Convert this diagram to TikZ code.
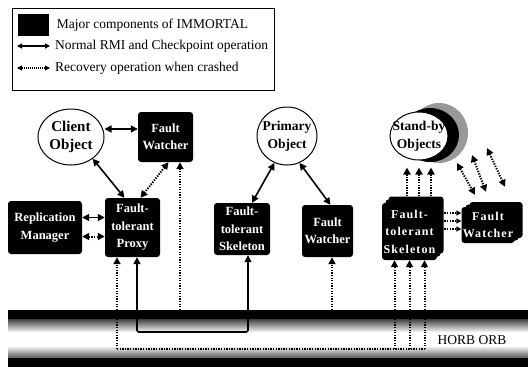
\documentclass[tikz,border=0pt]{standalone}
\usepackage{fontspec}
\setmainfont{Liberation Serif}
\usetikzlibrary{arrows.meta, positioning, shapes.geometric}

\tikzset{
  component/.style={fill=black, rounded corners=3pt, text=white, align=center, inner sep=0pt,
    font=\bfseries\fontsize{12.5}{17.5}\selectfont},
  spaced/.style={font=\bfseries\fontsize{12}{17.5}\selectfont\addfontfeature{LetterSpace=9}},
  object/.style={ellipse, draw=black, line width=1pt, fill=white, inner sep=0pt},
  objtext/.style={align=center, inner sep=0pt, font=\bfseries\fontsize{15}{18.5}\selectfont},
  keytext/.style={anchor=west, inner sep=0pt, font=\fontsize{13.5}{15}\selectfont},
  normal/.style={line width=1.6pt},
  recovery/.style={line width=2pt, dash pattern=on 1.3pt off 1.3pt},
}

\begin{document}
\begin{tikzpicture}[x=1pt, y=-1pt, >={Triangle[length=7pt,width=7pt]}]
  \useasboundingbox (0,0) rectangle (528,367);

  % Legend
  \node (legend) [draw, line width=0.6pt, minimum width=262pt, minimum height=82pt, inner sep=0pt, anchor=north west] at (12,8) {};
  \node (keybox) [fill=black, minimum width=31pt, minimum height=22pt, inner sep=0pt] at (33,25) {};
  \node (keycomp) [keytext, right=8pt of keybox] {Major components of IMMORTAL};
  \coordinate (keyna) at (17,46);
  \coordinate (keynb) at (50,46);
  \draw[<->, >={Triangle[length=5pt,width=5pt]}, line width=1.1pt] (keyna) -- (keynb);
  \node (keynormal) [keytext] at (55,46) {Normal RMI and Checkpoint operation};
  \coordinate (keyra) at (17,68);
  \coordinate (keyrb) at (50,68);
  \draw[<->, >={Triangle[length=5pt,width=5pt]}, line width=1.1pt, dash pattern=on 1pt off 1pt] (keyra) -- (keyrb);
  \node (keyrecover) [keytext] at (55,68) {Recovery operation when crashed};

  % HORB ORB band
  \node (orb) [minimum width=520pt, minimum height=57pt, inner sep=0pt, anchor=north west] at (8,310) {};
  \fill[black] (8,310) rectangle (528,319);
  \shade[top color=black!75, bottom color=black!8] (8,319) rectangle (528,331);
  \shade[top color=black!8, bottom color=black!65] (8,347) rectangle (528,358);
  \fill[black] (8,358) rectangle (528,367);
  \node (orbname) [font=\fontsize{13.5}{15}\selectfont] at (472,340) {HORB ORB};

  % Objects
  \node (client) [object, minimum width=66pt, minimum height=56pt] at (71,137) {};
  \node (clienttxt) [objtext] at (client) {Client\\Object};
  \node (primary) [object, minimum width=60pt, minimum height=58pt] at (287,136) {};
  \node (primarytxt) [objtext, font=\bfseries\fontsize{13.5}{18}\selectfont] at (primary) {Primary\\Object};
  \node (standbyc) [ellipse, fill=black!40, minimum width=58pt, minimum height=60pt, inner sep=0pt] at (439,133) {};
  \node (standbyb) [ellipse, fill=black, minimum width=58pt, minimum height=54pt, inner sep=0pt] at (430,135) {};
  \node (standby) [object, minimum width=58pt, minimum height=48pt] at (419,136) {};
  \node (standbytxt) [objtext, font=\bfseries\fontsize{13.5}{18}\selectfont] at (standby) {Stand-by\\Objects};

  % Components
  \node (cwatch) [component, minimum width=55pt, minimum height=50pt] at (165.5,137) {Fault\\Watcher};
  \node (repman) [component, minimum width=74pt, minimum height=53pt] at (45,227.5) {Replication\\Manager};
  \node (proxy) [component, minimum width=55pt, minimum height=59pt] at (132.5,227.5) {Fault-\\tolerant\\Proxy};
  \node (skel) [component, minimum width=56pt, minimum height=52pt] at (242,229) {Fault-\\tolerant\\Skeleton};
  \node (pwatch) [component, minimum width=51pt, minimum height=52pt] at (327.5,231) {Fault\\Watcher};
  \node (sskelb) [component, minimum width=55pt, minimum height=57pt] at (416,225) {};
  \node (sskela) [component, minimum width=55pt, minimum height=57pt] at (413,228) {};
  \node (sskel) [component, spaced, minimum width=55pt, minimum height=57pt] at (409.5,231.5) {Fault-\\tolerant\\Skeleton};
  \node (swatchb) [component, minimum width=53pt, minimum height=36pt] at (496,220) {};
  \node (swatcha) [component, minimum width=53pt, minimum height=36pt] at (492,222.5) {};
  \node (swatch) [component, spaced, minimum width=53pt, minimum height=36pt] at (488,225) {Fault\\Watcher};

  % Normal RMI and checkpoint
  \draw[<->, normal] ([yshift=8pt]client.east) -- ([yshift=8pt]cwatch.west);
  \draw[<->, normal] (client.-45) -- ([xshift=-8pt]proxy.north);
  \draw[<->, normal] ([yshift=10pt]repman.east) -- ([yshift=10pt]proxy.west);
  \draw[<->, normal] (primary.-115) -- ([xshift=10pt]skel.north);
  \draw[<->, normal] (primary.-65) -- ([xshift=3pt]pwatch.north);
  \coordinate (lanea) at (0,332);
  \coordinate (laneb) at (0,349);
  \coordinate (psolid) at ([xshift=4.5pt]proxy.south);
  \coordinate (ssolid) at ([xshift=6pt]skel.south);
  \draw[<->, normal, rounded corners=2pt] (psolid) -- (psolid |- lanea) -| (ssolid);

  % Recovery
  \draw[<->, recovery] ([xshift=3pt]cwatch.south) -- ([xshift=8pt]proxy.north);
  \draw[<->, recovery] ([yshift=-9pt]repman.east) -- ([yshift=-9pt]proxy.west);
  \coordinate (cdrop) at ([xshift=14.5pt]cwatch.south);
  \draw[->, recovery] (cdrop |- orb.north) -- (cdrop);
  \coordinate (pdrop) at ([xshift=4.5pt]pwatch.south);
  \draw[->, recovery] (pdrop |- orb.north) -- (pdrop);
  \coordinate (pdot) at ([xshift=-15.5pt]proxy.south);
  \draw[->, recovery] (pdot |- laneb) -- (pdot);
  \foreach \dx [count=\i] in {-15,0,15} {
    \coordinate (sup\i) at ([xshift=\dx pt]sskel.south);
    \draw[->, recovery] (sup\i |- laneb) -- (sup\i);
  }
  \draw[recovery] (pdot |- laneb) -- (sup3 |- laneb);
  \foreach \dx [count=\i] in {-12,0,12} {
    \coordinate (rise\i) at ([xshift=\dx pt, yshift=-7pt]standby.south);
    \draw[->, recovery] (rise\i |- sskelb.north) -- (rise\i);
  }
  \foreach \dy [count=\i] in {12,4,-4} {
    \coordinate (hw\i) at ([yshift=\dy pt]swatch.west);
    \draw[<->, recovery, >={Triangle[length=5pt,width=5pt]}] (hw\i -| sskel.east) -- (hw\i);
  }
  \foreach \sx/\sy/\ex/\ey in {38/-27/-13/12, 53/-19/-2/15, 68/-12/17/20}
    \draw[<->, recovery] ([xshift=\sx pt, yshift=\sy pt]standby.center) -- ([xshift=\ex pt, yshift=\ey pt]swatch.north);
\end{tikzpicture}
\end{document}
